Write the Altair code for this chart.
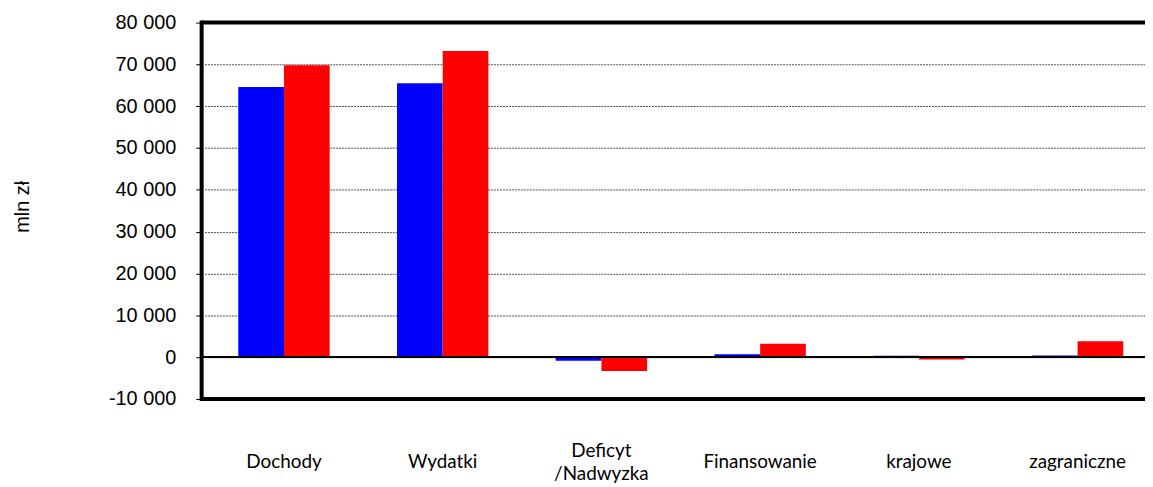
import altair as alt
import pandas as pd

categories = ["Dochody", "Wydatki", "Deficyt\n/Nadwyzka", "Finansowanie", "krajowe", "zagraniczne"]
series_names = ["Seria 1", "Seria 2"]
values_blue = [64600, 65500, -900, 700, 300, 400]
values_red = [69800, 73200, -3300, 3200, -600, 3800]
y_ticks = [-10000, 0, 10000, 20000, 30000, 40000, 50000, 60000, 70000, 80000]

rows = []
for c, b, r in zip(categories, values_blue, values_red):
    rows.append({"kat": c, "seria": series_names[0], "wartosc": b})
    rows.append({"kat": c, "seria": series_names[1], "wartosc": r})
df = pd.DataFrame(rows)

W, H = 950, 379

y_scale = alt.Scale(domain=[-10000, 80000], nice=False, zero=False)

bars = alt.Chart(df).mark_bar(size=46).encode(
    x=alt.X("kat:N", sort=categories,
            scale=alt.Scale(range=[3, 962], paddingInner=0.424, paddingOuter=0.212),
            axis=alt.Axis(title=None, ticks=False, domain=False, labelAngle=0,
                          labelExpr="split(datum.label, '\\n')",
                          labelFont="Lato", labelFontSize=19, labelColor="black",
                          labelBaseline="middle", labelLineHeight=23,
                          labelPadding={"condition": {"test": "indexof(datum.value, 'Deficyt') >= 0",
                                                      "value": 52},
                                        "value": 63})),
    xOffset=alt.XOffset("seria:N", sort=series_names),
    y=alt.Y("wartosc:Q", scale=y_scale,
            axis=alt.Axis(values=y_ticks,
                          labelExpr="replace(replace(format(datum.value, ',d'), ',', ' '), '\u2212', '-')",
                          domain=False, tickColor="black", tickSize=6, tickWidth=1,
                          labelFont="Liberation Sans", labelFontSize=20, labelColor="black",
                          labelPadding=20,
                          grid=True, gridColor="#222", gridDash=[2, 1], gridWidth=0.8,
                          title="mln zł", titleFont="Liberation Sans", titleFontSize=20,
                          titleFontWeight="normal", titleColor="black",
                          titleX=-180, titleY=185, titleAngle=-90,
                          titleAlign="center", titleBaseline="middle")),
    color=alt.Color("seria:N", sort=series_names,
                    scale=alt.Scale(domain=series_names, range=["#0000FF", "#FF0000"]),
                    legend=None),
)

one = alt.Data(values=[{"a": 1}])

zero_line = alt.Chart(one).mark_rule(color="black", strokeWidth=2).encode(
    y=alt.datum(0, type="quantitative"))
top_line = alt.Chart(one).mark_rule(color="black", strokeWidth=4).encode(
    y=alt.datum(80000, type="quantitative"))
bottom_line = alt.Chart(one).mark_rule(color="black", strokeWidth=4).encode(
    y=alt.datum(-10000, type="quantitative"))
left_line = alt.Chart(one).mark_rule(color="black", strokeWidth=4).encode(
    x=alt.value(0), y=alt.value(-2), y2=alt.value(H + 2))

chart = alt.layer(bars, zero_line, top_line, bottom_line, left_line).properties(
    width=W, height=H,
    autosize=alt.AutoSizeParams(type="none"),
    padding={"left": 195, "top": 13, "right": 0, "bottom": 85},
).configure_view(stroke=None).configure(background="white")

chart.save("out.html", embed_options={"renderer": "svg", "actions": False})
